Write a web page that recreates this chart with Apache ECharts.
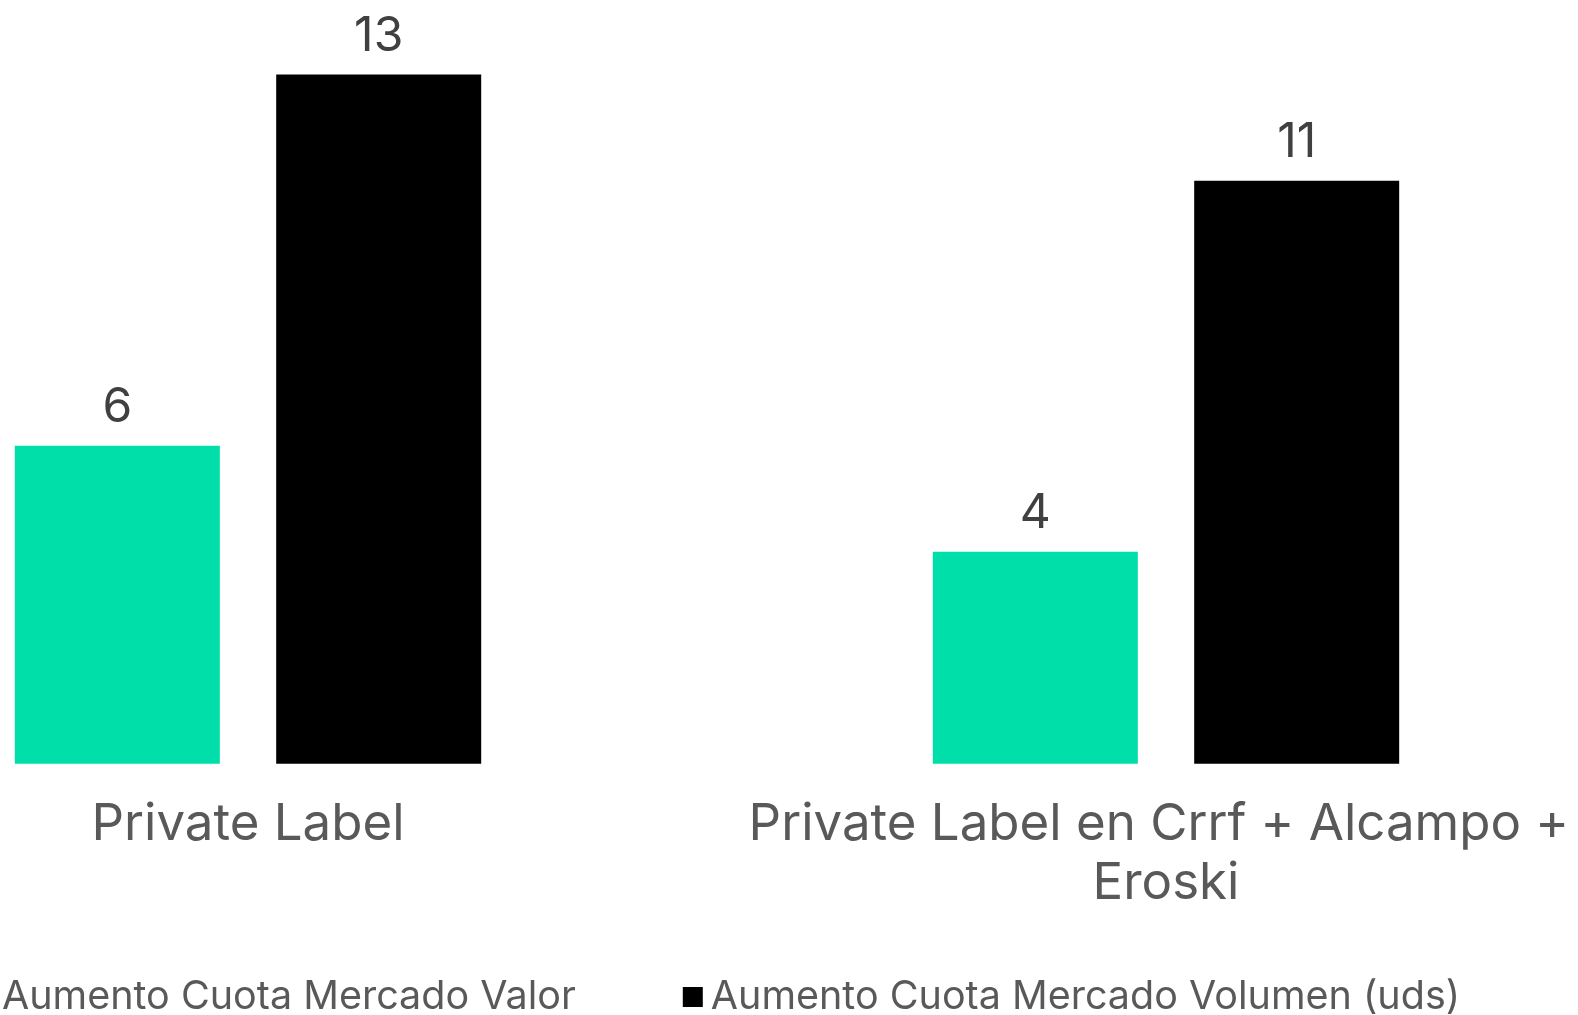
<!DOCTYPE html>
<html><head><meta charset="utf-8">
<script src="https://cdn.jsdelivr.net/npm/echarts@6/dist/echarts.min.js"></script>
<style>
html,body{margin:0;padding:0;background:#fff;overflow:hidden;width:1578px;height:1015px;position:relative}
#c{position:absolute;left:-211px;top:0;width:1836px;height:1015px}
</style>
</head><body><div id="c"></div>
<script>
var categories = ['Private Label', 'Private Label en Crrf + Alcampo + Eroski'];
var seriesNames = ['Aumento Cuota Mercado Valor', 'Aumento Cuota Mercado Volumen (uds)'];
var valorValues = [6, 4];
var volumenValues = [13, 11];

var FONT = 'Inter';
var chart = echarts.init(document.getElementById('c'), null, {renderer: 'canvas'});
chart.setOption({
  backgroundColor: '#ffffff',
  animation: false,
  textStyle: {fontFamily: FONT},
  legend: {
    left: 180, top: 972,
    itemWidth: 20, itemHeight: 20, itemGap: 107,
    icon: 'rect',
    textStyle: {fontFamily: FONT, fontSize: 39.5, color: '#595959', padding: [0, 0, 0, 3]},
    data: seriesNames
  },
  grid: {left: 0, right: 0, top: 21.6, bottom: 251.2, containLabel: false},
  xAxis: {
    type: 'category', data: categories,
    axisLine: {show: false}, axisTick: {show: false},
    axisLabel: {
      fontFamily: FONT, fontSize: 51, color: '#595959', margin: 31,
      lineHeight: 59, width: 870, overflow: 'break', interval: 0
    }
  },
  yAxis: {type: 'value', min: 0, max: 14, show: false, splitLine: {show: false}},
  series: [
    {
      name: seriesNames[0], type: 'bar', data: valorValues,
      barWidth: 205, barGap: '27.5%',
      itemStyle: {color: '#00DEAA'},
      label: {show: true, position: 'top', distance: 14, fontFamily: FONT, fontSize: 48, color: '#404040'}
    },
    {
      name: seriesNames[1], type: 'bar', data: volumenValues,
      barWidth: 205, barGap: '27.5%',
      itemStyle: {color: '#000000'},
      label: {show: true, position: 'top', distance: 14, fontFamily: FONT, fontSize: 48, color: '#404040'}
    }
  ]
});
</script></body></html>
